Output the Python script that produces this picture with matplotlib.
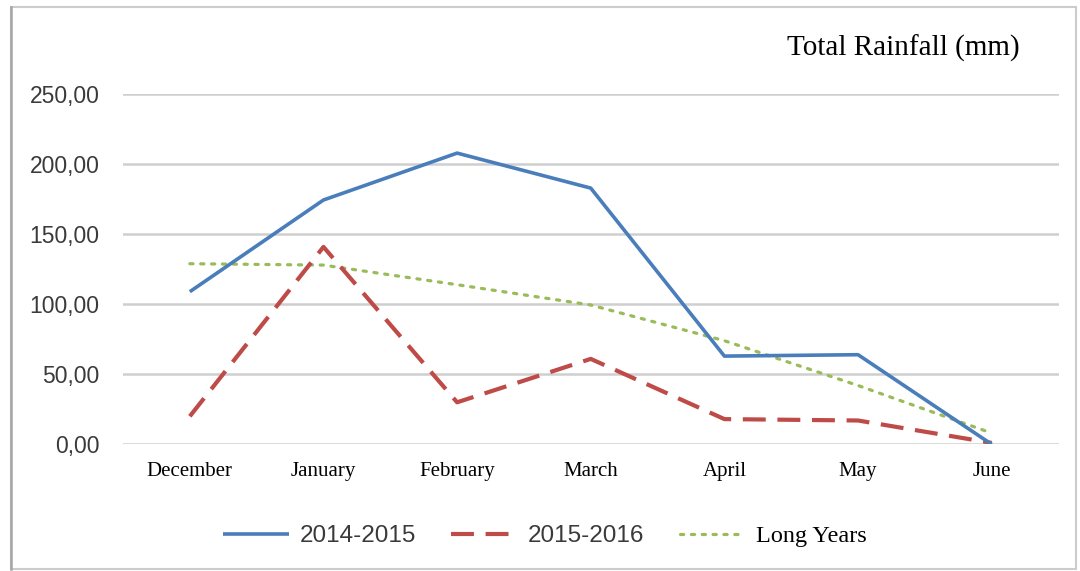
import matplotlib
matplotlib.use("Agg")
import matplotlib.pyplot as plt
from matplotlib.patches import Rectangle
from matplotlib.lines import Line2D

months = ["December", "January", "February", "March", "April", "May", "June"]
rain_2014_2015 = [109, 174.5, 208, 183, 63, 64, 0]
rain_2015_2016 = [20, 141, 30, 61, 18, 17, 1]
long_years = [129, 128, 114, 99.5, 74, 42, 8]
yticks = [0, 50, 100, 150, 200, 250]
ytick_labels = ["0,00", "50,00", "100,00", "150,00", "200,00", "250,00"]
series_labels = ["2014-2015", "2015-2016", "Long Years"]
title = "Total Rainfall (mm)"

W, H = 1080, 571
fig = plt.figure(figsize=(W / 100, H / 100), dpi=100)
ax = fig.add_axes([123 / W, 1 - 444.3 / H, (1058.5 - 123) / W, (444.3 - 94.3) / H])

x = range(len(months))
l1, = ax.plot(x, rain_2014_2015, color="#4a7ebb", lw=2.6, solid_capstyle="butt", zorder=4)
l2, = ax.plot(x, rain_2015_2016, color="#be4b48", lw=3.0, dashes=(5.5, 2.8),
              dash_capstyle="butt", zorder=3)
l3, = ax.plot(x, long_years, color="#9bbb59", lw=2.3, dashes=(1, 2.4),
              dash_capstyle="round", zorder=2)

ax.set_xlim(-0.5, len(months) - 0.5)
ax.set_ylim(0, 250)
ax.set_yticks(yticks)
ax.set_yticklabels(ytick_labels, fontfamily="Liberation Sans", fontsize=16.5, color="#3a3a3a")
ax.set_xticks(list(x))
ax.set_xticklabels(months, fontfamily="Liberation Serif", fontsize=15, color="black")
ax.tick_params(axis="y", length=0, pad=17)
ax.tick_params(axis="x", length=0, pad=13)
for s in ax.spines.values():
    s.set_visible(False)
ax.grid(axis="y", color="#cfcfcf", lw=1.8)
ax.set_axisbelow(True)

fig.text(903 / W, 1 - 48 / H, title, fontfamily="Liberation Serif", fontsize=21,
         ha="center", va="center", color="black")

leg = ax.legend([l1, l2, l3], series_labels, ncol=3, loc="center",
                bbox_to_anchor=(545 / W, 1 - 536 / H), bbox_transform=fig.transFigure,
                frameon=False, handlelength=2.7, handletextpad=0.45,
                columnspacing=1.45, prop={"family": "Liberation Sans", "size": 17.5})
texts = leg.get_texts()
for t in texts[:2]:
    t.set_color("#3a3a3a")
texts[2].set_fontfamily("Liberation Serif")
texts[2].set_fontsize(17.5)
texts[2].set_color("black")

fig.add_artist(Rectangle((11 / W, 1 - 569 / H), (1076 - 11) / W, (569 - 7) / H,
                         transform=fig.transFigure, fill=False, edgecolor="#cccccc", lw=1.5))
fig.add_artist(Line2D([11 / W, 11 / W], [1 - 569 / H, 1 - 7 / H], transform=fig.transFigure,
                      color="#a6a6a6", lw=1.8))

fig.savefig("out.png", dpi=100)
